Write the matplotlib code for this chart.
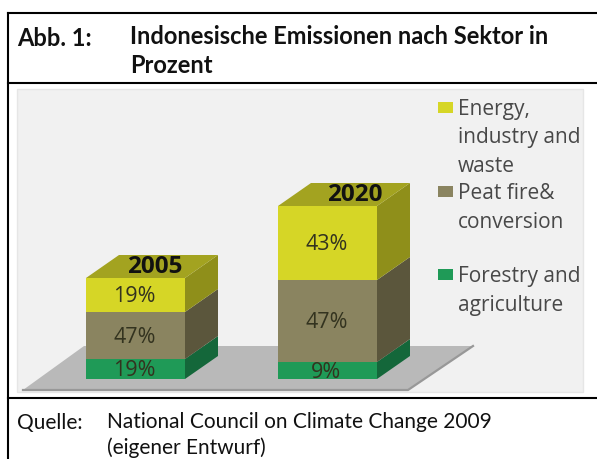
import matplotlib
matplotlib.use("Agg")
import matplotlib.pyplot as plt
from matplotlib.patches import Polygon, Rectangle

# Data
years = ["2005", "2020"]
series = ["Forestry and\nagriculture", "Peat fire&\nconversion", "Energy,\nindustry and\nwaste"]
# drawn segment heights (bottom to top), as pictured
heights = {"2005": [20, 47, 34], "2020": [17, 82, 74]}
labels = {"2005": ["19%", "47%", "19%"], "2020": ["9%", "47%", "43%"]}
bar_left = {"2005": 86, "2020": 278}
year_dx = {"2005": 69, "2020": 77}
title = "Indonesische Emissionen nach Sektor in\nProzent"
fig_label = "Abb. 1:"
source_label = "Quelle:"
source = "National Council on Climate Change 2009\n(eigener Entwurf)"

front = ["#1f9a57", "#8a8460", "#d6d626"]
side = ["#14673a", "#5b563c", "#8f8f1a"]
top_col = "#a3a320"
legend_col = ["#1f9a57", "#8a8460", "#d6d626"]
legend_y = [270, 187, 103]
legend_text_y = [291, 208, 138]

W, H = 597, 460
fig = plt.figure(figsize=(W / 100, H / 100), dpi=100, facecolor="white")
ax = fig.add_axes([0, 0, 1, 1])
ax.set_xlim(0, W)
ax.set_ylim(H, 0)
ax.axis("off")
FONT = "Open Sans"

# chart background
ax.add_patch(Rectangle((17, 90), 566, 303, fc="#f1f1f1", ec="#e6e6e6", lw=1))
# floor
ax.add_patch(Polygon([(23, 391), (408, 391), (473, 347), (84, 347)], fc="#b9b9b9", ec="none"))
ax.plot([23, 408, 473], [391, 391, 347], color="#989898", lw=1.6)

base, bw, dx, dy = 380, 99, 33, 23
for y in years:
    x0 = bar_left[y]
    cur = base
    for h, fc, sc, lab in zip(heights[y], front, side, labels[y]):
        ax.add_patch(Rectangle((x0, cur - h), bw, h, fc=fc, ec="none"))
        ax.add_patch(Polygon([(x0 + bw, cur), (x0 + bw + dx, cur - dy), (x0 + bw + dx, cur - h - dy),
                              (x0 + bw, cur - h)], fc=sc, ec="none"))
        ax.text(x0 + bw / 2 - 1, cur - h / 2 + 1, lab, ha="center", va="center", fontsize=15.5,
                family=FONT, fontweight="medium", color="#33331f")
        cur -= h
    ax.add_patch(Polygon([(x0, cur), (x0 + dx, cur - dy), (x0 + bw + dx, cur - dy), (x0 + bw, cur)],
                         fc=top_col, ec="none"))
    ax.text(x0 + year_dx[y], cur - 12, y, ha="center", va="center", fontsize=17.5, fontweight="bold",
            family=FONT, color="#111111")

# legend
for name, c, ly, ty in zip(series, legend_col, legend_y, legend_text_y):
    ax.add_patch(Rectangle((438, ly), 15, 11, fc=c, ec="none"))
    ax.text(458, ty, name, ha="left", va="center", fontsize=15, family=FONT, fontweight="medium",
            color="#484848", linespacing=1.46)

# frame
for xs, ys in [((8, 597), (14, 14)), ((8, 597), (84, 84)), ((8, 597), (399, 399)), ((8, 8), (14, 460))]:
    ax.plot(xs, ys, color="black", lw=1.5, solid_capstyle="projecting")

# header & source
ax.text(17, 38, fig_label, fontsize=17, fontweight="bold", family="Lato", va="center", color="#111111")
ax.text(130, 51, title, fontsize=17, fontweight="bold", family="Lato", va="center", color="#111111",
        linespacing=1.28)
ax.text(17, 423, source_label, fontsize=15, family="Lato", va="center", color="#111111")
ax.text(107, 435, source, fontsize=15, family="Lato", va="center", color="#111111", linespacing=1.38)

fig.savefig("out.png", dpi=100, facecolor="white")
